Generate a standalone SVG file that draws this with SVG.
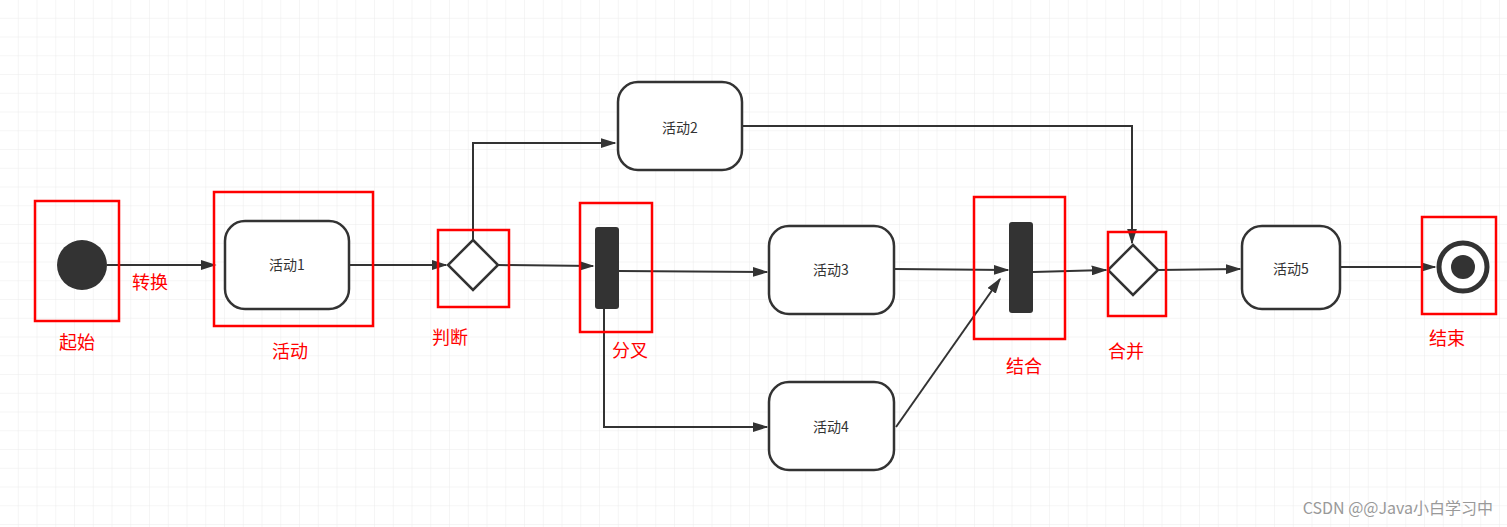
<svg xmlns="http://www.w3.org/2000/svg" width="1507" height="527" viewBox="0 0 1507 527">
<defs>
<pattern id="g" width="18.75" height="18.75" patternUnits="userSpaceOnUse"><path d="M18.75 0V18.75H0" fill="none" stroke="#ececec" stroke-width="1"/></pattern>
<marker id="a" viewBox="0 0 10 10" refX="9" refY="5" markerWidth="7" markerHeight="7" orient="auto" markerUnits="userSpaceOnUse" style="overflow:visible"><path d="M0 0L10 5L0 10Z" fill="#333"/></marker>
<marker id="ah" viewBox="0 0 10 10" refX="9" refY="5" markerWidth="16" markerHeight="10" orient="auto" markerUnits="userSpaceOnUse" preserveAspectRatio="none"><path d="M0 0L10 5L0 10Z" fill="#333"/></marker>
</defs>
<style>
.n{fill:#fff;stroke:#333;stroke-width:2.5}
.t{font-family:"Noto Sans CJK SC","Liberation Sans",sans-serif;font-size:14px;fill:#333;text-anchor:middle}
.r{fill:none;stroke:#f00;stroke-width:2.5}
.l{font-family:"Noto Sans CJK SC",sans-serif;font-size:18px;fill:#f00;text-anchor:middle}
.c{fill:none;stroke:#333;stroke-width:2;marker-end:url(#ah)}
</style>
<rect width="1507" height="527" fill="#fff"/>
<rect width="1507" height="527" fill="url(#g)"/>
<g id="connectors">
<path class="c" d="M107 265H215"/>
<path class="c" d="M349 265H446"/>
<path class="c" d="M473 240V143H615"/>
<path class="c" d="M498 265L593 266"/>
<path class="c" d="M619 271L767 272"/>
<path class="c" d="M604 309V427H767"/>
<path class="c" d="M742 126H1132V243"/>
<path class="c" d="M894 269L1008 270"/>
<path class="c" d="M896 427L1000 279"/>
<path class="c" d="M1033 272L1106 270"/>
<path class="c" d="M1158 270L1240 269"/>
<path class="c" d="M1340 267L1435 267"/>
</g>
<g id="start"><circle cx="82" cy="265" r="25" fill="#333"/><rect class="r" x="35" y="201" width="84" height="120"/><text class="l" x="77" y="349">起始</text></g>
<text class="l" x="150" y="289">转换</text>
<g id="act1"><rect class="n" x="225" y="221" width="124" height="88" rx="20"/><text class="t" x="287" y="270">活动1</text><rect class="r" x="214" y="192" width="159" height="134"/><text class="l" x="290" y="358">活动</text></g>
<g id="decision"><path class="n" d="M473 240L498 265L473 290L448 265Z"/><rect class="r" x="438" y="230" width="71" height="77"/><text class="l" x="450" y="344">判断</text></g>
<g id="fork"><rect x="595" y="227" width="24" height="82" rx="3" fill="#333"/><rect class="r" x="580" y="203" width="72" height="129"/><text class="l" x="630" y="357">分叉</text></g>
<g id="act2"><rect class="n" x="618" y="82" width="124" height="88" rx="20"/><text class="t" x="680" y="133">活动2</text></g>
<g id="act3"><rect class="n" x="769" y="226" width="125" height="88" rx="20"/><text class="t" x="831" y="275">活动3</text></g>
<g id="act4"><rect class="n" x="769" y="382" width="125" height="88" rx="20"/><text class="t" x="831" y="432">活动4</text></g>
<g id="join"><rect x="1009" y="222" width="24" height="91" rx="3" fill="#333"/><rect class="r" x="974" y="197" width="91" height="142"/><text class="l" x="1024" y="373">结合</text></g>
<g id="merge"><path class="n" d="M1133 245L1158 270L1133 295L1108 270Z"/><rect class="r" x="1108" y="232" width="58" height="84"/><text class="l" x="1126" y="358">合并</text></g>
<g id="act5"><rect class="n" x="1242" y="226" width="98" height="83" rx="20"/><text class="t" x="1291" y="274">活动5</text></g>
<g id="end"><circle cx="1463" cy="267" r="24" fill="#fff" stroke="#333" stroke-width="5"/><circle cx="1463" cy="267" r="12" fill="#333"/><rect class="r" x="1422" y="217" width="74" height="97"/><text class="l" x="1447" y="345">结束</text></g>
<text x="1493" y="514" font-family="Noto Sans CJK SC,sans-serif" font-size="16" fill="#999" text-anchor="end">CSDN @@Java小白学习中</text>
</svg>
